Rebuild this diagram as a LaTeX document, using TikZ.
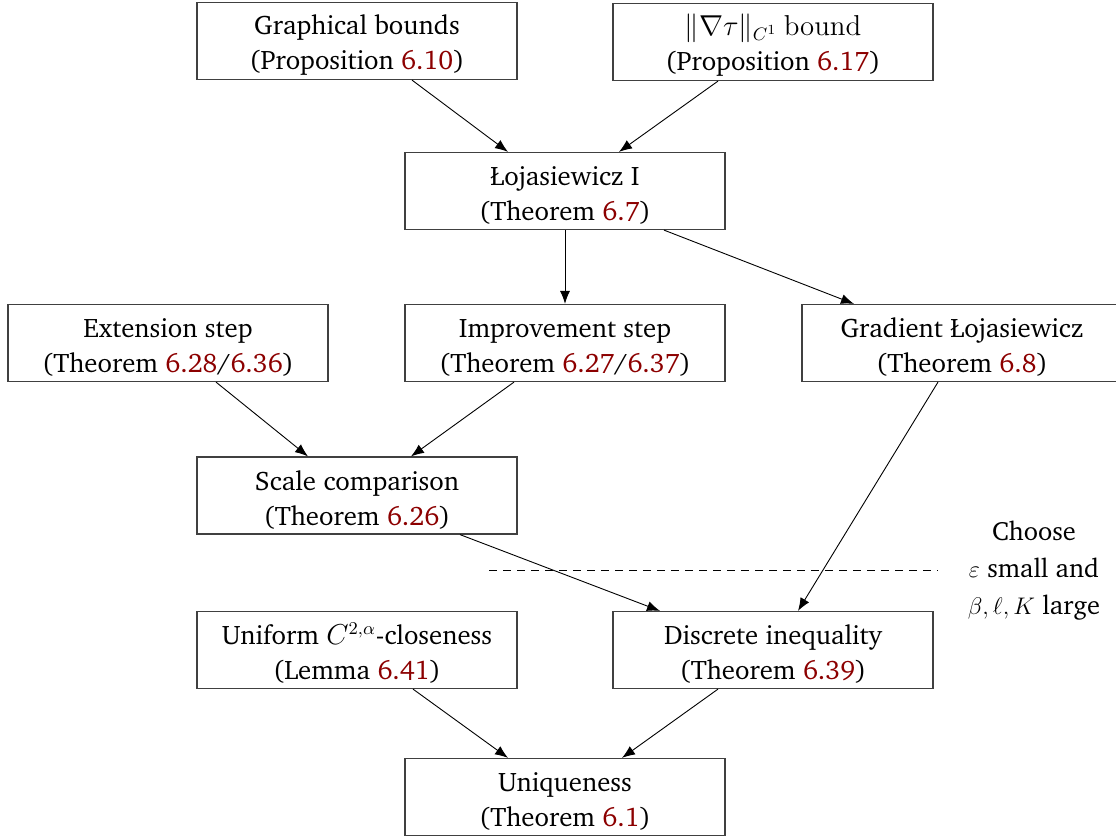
\documentclass[tikz,border=0pt]{standalone}
\usepackage[T1]{fontenc}
\usepackage{charter}
\usetikzlibrary{arrows.meta}
\definecolor{refred}{rgb}{0.55,0,0}
\newcommand{\rf}[1]{\textcolor{refred}{#1}}
\newcommand{\topstrut}{\rule{0pt}{14pt}}
\tikzset{
  box/.style={draw=black!75, line width=0.6pt, minimum width=160pt, minimum height=38.5pt,
    align=center, inner sep=2pt, font=\fontsize{13.4}{17.5}\selectfont},
  arr/.style={-{Latex[length=6.5pt,width=5pt]}, line width=0.45pt},
}
\begin{document}
\begin{tikzpicture}[x=0.5pt,y=-0.5pt]
\useasboundingbox (0,0) rectangle (1116,836);
\node[box] (g)    at (357,41)    {\topstrut Graphical bounds\\(Proposition \rf{6.10})};
\node[box] (n)    at (773,42)    {\topstrut$\|\nabla\tau\|_{C^1}\:\mathrm{bound}$\\(Proposition \rf{6.17})};
\node[box] (l1)   at (565,191)   {\topstrut\L{}ojasiewicz I\\(Theorem \rf{6.7})};
\node[box] (ext)  at (168,343)   {\topstrut Extension step\\(Theorem \rf{6.28}/\rf{6.36})};
\node[box] (imp)  at (565,343)   {\topstrut Improvement step\\(Theorem \rf{6.27}/\rf{6.37})};
\node[box] (grad) at (962,343)   {\topstrut Gradient \L{}ojasiewicz\\(Theorem \rf{6.8})};
\node[box] (sc)   at (357,495.5) {\topstrut Scale comparison\\(Theorem \rf{6.26})};
\node[box] (un)   at (357,650)   {\topstrut Uniform $C^{2,\alpha}$-closeness\\(Lemma \rf{6.41})};
\node[box] (di)   at (773,650)   {\topstrut Discrete inequality\\(Theorem \rf{6.39})};
\node[box] (uq)   at (565,797)   {\topstrut Uniqueness\\(Theorem \rf{6.1})};
\coordinate (dl) at (489,570);
\coordinate (dr) at (938,570);
\draw[dashed, dash pattern=on 4pt off 3pt, line width=0.45pt] (dl) -- (dr);
\node[align=center, font=\fontsize{13.2}{18.5}\selectfont] (note) at (1034,570) {Choose\\$\varepsilon$ small and\\$\beta,\ell,K$ large};
\draw[arr] ([xshift=27.5pt]g.south) -- ([xshift=-28.5pt]l1.north);
\draw[arr] ([xshift=-27.5pt]n.south) -- ([xshift=27pt]l1.north);
\draw[arr] (l1.south) -- (imp.north);
\draw[arr] ([xshift=49.5pt]l1.south) -- ([xshift=-54pt]grad.north);
\draw[arr] ([xshift=24pt]ext.south) -- ([xshift=-24.5pt]sc.north);
\draw[arr] ([xshift=-25.5pt]imp.south) -- ([xshift=27pt]sc.north);
\draw[arr] ([xshift=51.5pt]sc.south) -- ([xshift=-56.5pt]di.north);
\draw[arr] ([xshift=-12pt]grad.south) -- ([xshift=12.5pt]di.north);
\draw[arr] ([xshift=28pt]un.south) -- ([xshift=-28.5pt]uq.north);
\draw[arr] ([xshift=-27.5pt]di.south) -- ([xshift=28.5pt]uq.north);
\end{tikzpicture}
\end{document}
